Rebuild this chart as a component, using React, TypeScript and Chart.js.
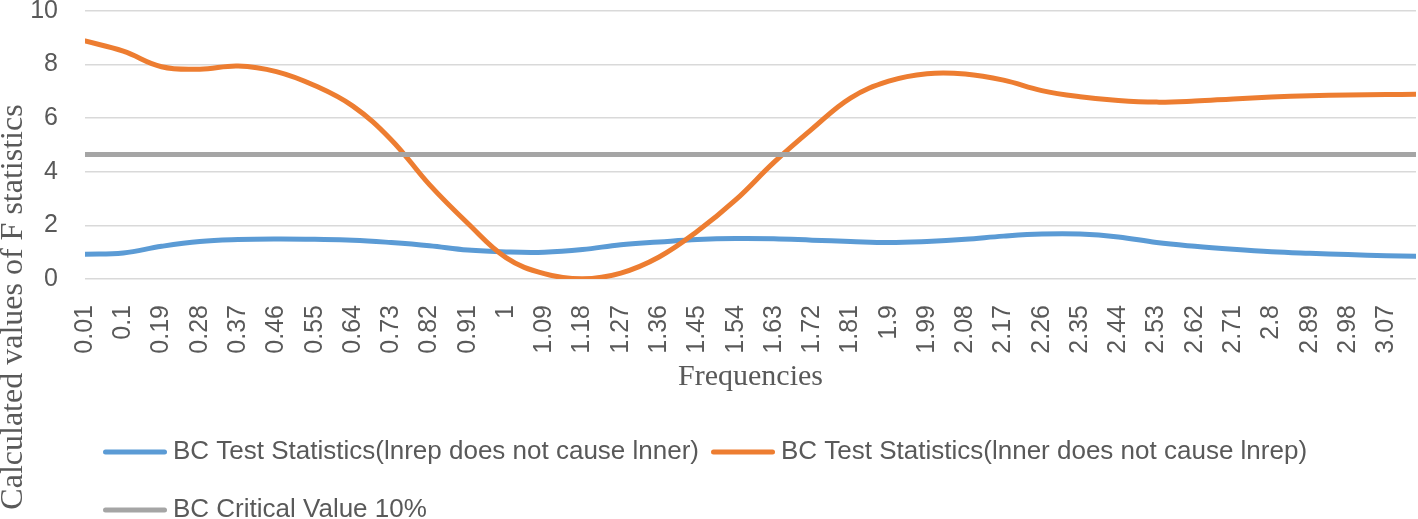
import React, { useEffect, useRef } from 'react';
import { Chart, registerables } from 'chart.js';

Chart.register(...registerables);

// Frequencies (x values of the data points)
const frequencies = [
  0.01, 0.1, 0.19, 0.28, 0.37, 0.46, 0.55, 0.64, 0.73, 0.82, 0.91, 1.0,
  1.09, 1.18, 1.27, 1.36, 1.45, 1.54, 1.63, 1.72, 1.81, 1.9, 1.99, 2.08,
  2.17, 2.26, 2.35, 2.44, 2.53, 2.62, 2.71, 2.8, 2.89, 2.98, 3.07, 3.14,
];

// Tick positions and labels on the x axis
const xTickValues = [
  0.01, 0.1, 0.19, 0.28, 0.37, 0.46, 0.55, 0.64, 0.73, 0.82, 0.91, 1.0,
  1.09, 1.18, 1.27, 1.36, 1.45, 1.54, 1.63, 1.72, 1.81, 1.9, 1.99, 2.08,
  2.17, 2.26, 2.35, 2.44, 2.53, 2.62, 2.71, 2.8, 2.89, 2.98, 3.07,
];
const xTickLabels = [
  '0.01', '0.1', '0.19', '0.28', '0.37', '0.46', '0.55', '0.64', '0.73', '0.82', '0.91', '1',
  '1.09', '1.18', '1.27', '1.36', '1.45', '1.54', '1.63', '1.72', '1.81', '1.9', '1.99', '2.08',
  '2.17', '2.26', '2.35', '2.44', '2.53', '2.62', '2.71', '2.8', '2.89', '2.98', '3.07',
];

// BC Test Statistics (lnrep does not cause lnner)
const lnrepNotCauseInner = [
  0.92, 0.97, 1.22, 1.4, 1.47, 1.49, 1.48, 1.45, 1.36, 1.24, 1.08, 1.01,
  1.0, 1.1, 1.28, 1.38, 1.47, 1.51, 1.5, 1.45, 1.4, 1.36, 1.4, 1.48,
  1.6, 1.68, 1.68, 1.57, 1.36, 1.22, 1.11, 1.02, 0.96, 0.91, 0.87, 0.85,
];

// BC Test Statistics (lnner does not cause lnrep)
const innerNotCauseLnrep = [
  8.88, 8.5, 7.92, 7.83, 7.95, 7.74, 7.22, 6.45, 5.2, 3.52, 2.08, 0.8,
  0.2, 0.01, 0.22, 0.82, 1.78, 2.95, 4.35, 5.6, 6.75, 7.38, 7.66, 7.65,
  7.42, 7.03, 6.8, 6.66, 6.6, 6.64, 6.72, 6.79, 6.84, 6.87, 6.88, 6.89,
];

// BC Critical Value 10%
const criticalValue10 = [
  4.65, 4.65, 4.65, 4.65, 4.65, 4.65, 4.65, 4.65, 4.65, 4.65, 4.65, 4.65,
  4.65, 4.65, 4.65, 4.65, 4.65, 4.65, 4.65, 4.65, 4.65, 4.65, 4.65, 4.65,
  4.65, 4.65, 4.65, 4.65, 4.65, 4.65, 4.65, 4.65, 4.65, 4.65, 4.65, 4.65,
];

const seriesNames = [
  'BC Test Statistics(lnrep does not cause lnner)',
  'BC Test Statistics(lnner does not cause lnrep)',
  'BC Critical Value 10%',
];
const yAxisTitle = 'Calculated values of F statistics';
const xAxisTitle = 'Frequencies';

const SANS = '"Liberation Sans", Arial, sans-serif';
const SERIF = '"Liberation Serif", "Times New Roman", serif';
const TEXT = '#595959';
const COLORS = ['#5B9BD5', '#ED7D31', '#A5A5A5'];

export default function App() {
  const ref = useRef<HTMLCanvasElement>(null);

  useEffect(() => {
    document.body.style.margin = '0';
    const canvas = ref.current;
    if (!canvas) return;

    const toPoints = (arr: number[]) => frequencies.map((f, i) => ({ x: f, y: arr[i] }));

    const yTitlePlugin = {
      id: 'yTitleFree',
      afterDraw(chart: any) {
        const { ctx } = chart;
        ctx.save();
        ctx.translate(22, 307);
        ctx.rotate(-Math.PI / 2);
        ctx.font = `32px ${SERIF}`;
        ctx.fillStyle = TEXT;
        ctx.textAlign = 'center';
        ctx.textBaseline = 'alphabetic';
        ctx.fillText(yAxisTitle, 0, 0);
        ctx.restore();
      },
    };

    const legendPlugin = {
      id: 'bottomLegend',
      afterDraw(chart: any) {
        const { ctx } = chart;
        ctx.save();
        ctx.font = `26px ${SANS}`;
        ctx.textBaseline = 'middle';
        ctx.textAlign = 'left';
        const rows = [[0, 1], [2]];
        const rowY = [452, 510];
        rows.forEach((row, r) => {
          let x = chart.chartArea.left + 18;
          row.forEach((i) => {
            const ds = chart.data.datasets[i];
            ctx.strokeStyle = ds.borderColor;
            ctx.lineWidth = 5;
            ctx.lineCap = 'round';
            ctx.beginPath();
            ctx.moveTo(x + 2.5, rowY[r]);
            ctx.lineTo(x + 61.5, rowY[r]);
            ctx.stroke();
            const tx = x + 70;
            ctx.fillStyle = TEXT;
            ctx.fillText(ds.label, tx, rowY[r]);
            x = tx + ctx.measureText(ds.label).width + 12;
          });
        });
        ctx.restore();
      },
    };

    const lineStyle = (i: number) => ({
      borderColor: COLORS[i],
      backgroundColor: COLORS[i],
      borderWidth: 5,
      pointRadius: 0,
      pointHoverRadius: 0,
      tension: 0.4,
      borderCapStyle: 'round' as const,
      borderJoinStyle: 'round' as const,
      fill: false,
    });

    const chart = new Chart(canvas, {
      type: 'line',
      data: {
        datasets: [
          { label: seriesNames[0], data: toPoints(lnrepNotCauseInner), ...lineStyle(0), order: 2 },
          { label: seriesNames[1], data: toPoints(innerNotCauseLnrep), ...lineStyle(1), order: 1 },
          { label: seriesNames[2], data: toPoints(criticalValue10), ...lineStyle(2), tension: 0, order: 0 },
        ],
      },
      options: {
        animation: false,
        responsive: false,
        maintainAspectRatio: false,
        layout: { padding: { left: 30, right: 2, top: 0, bottom: 124 } },
        plugins: {
          legend: { display: false },
          tooltip: { enabled: false },
        },
        scales: {
          x: {
            type: 'linear',
            min: 0.01,
            max: 3.14,
            afterBuildTicks: (scale: any) => {
              scale.ticks = xTickValues.map((v) => ({ value: v }));
            },
            afterFit: (scale: any) => {
              scale.height = 116;
              scale.paddingLeft = 0;
              scale.paddingRight = 0;
            },
            ticks: {
              autoSkip: false,
              maxRotation: 90,
              minRotation: 90,
              padding: 18,
              color: TEXT,
              font: { family: SANS, size: 25 },
              callback: (_v: any, i: number) => xTickLabels[i],
            },
            grid: { display: false },
            border: { display: false },
            title: {
              display: true,
              text: xAxisTitle,
              color: TEXT,
              font: { family: SERIF, size: 30 },
              padding: { top: 13, bottom: 0 },
            },
          },
          y: {
            min: 0,
            max: 10,
            afterFit: (scale: any) => {
              scale.width = 55;
              scale.paddingTop = 11;
              scale.paddingBottom = 0;
            },
            ticks: {
              stepSize: 2,
              padding: 27,
              color: TEXT,
              font: { family: SANS, size: 25, lineHeight: 0.88 },
            },
            grid: { color: '#D9D9D9', lineWidth: 1.5, drawTicks: false },
            border: { display: false },
          },
        },
      },
      plugins: [yTitlePlugin, legendPlugin],
    });

    return () => chart.destroy();
  }, []);

  return (
    <div style={{ width: 1418, height: 519 }}>
      <canvas ref={ref} width={1418} height={519} style={{ display: 'block' }} />
    </div>
  );
}
